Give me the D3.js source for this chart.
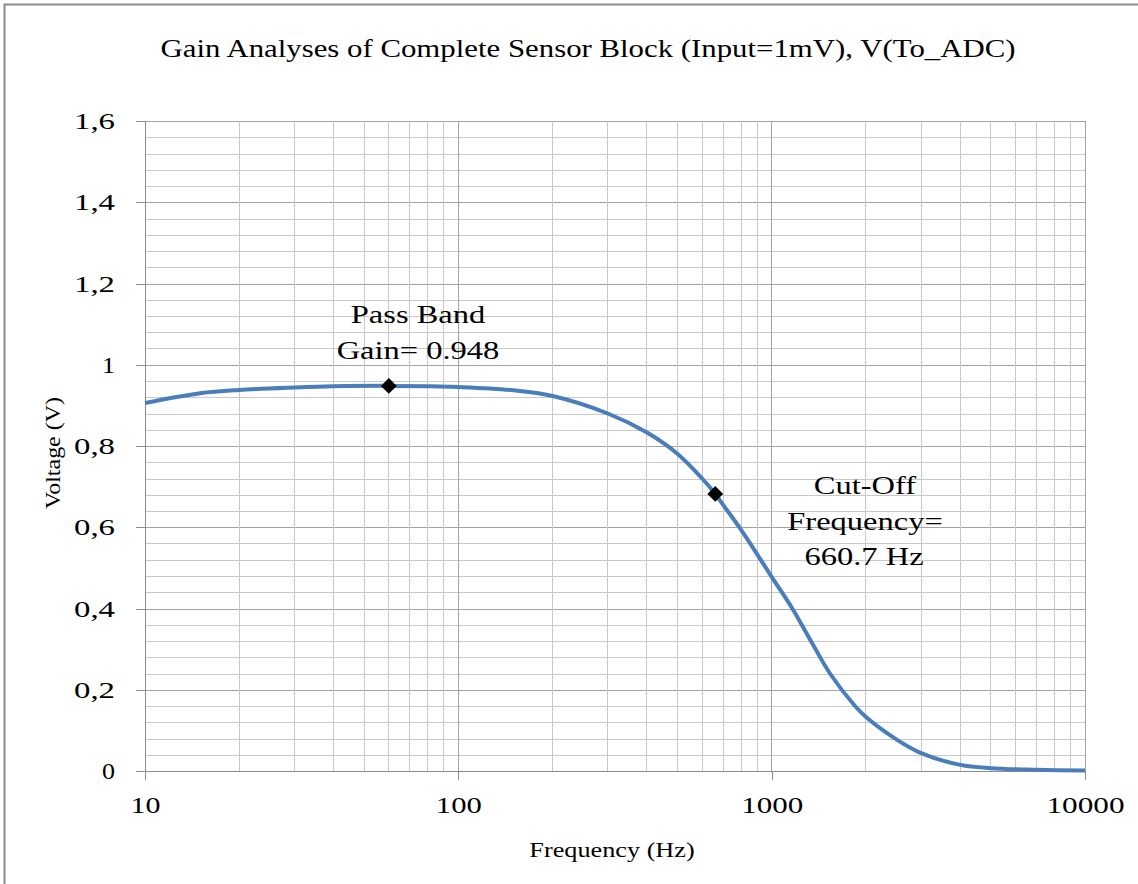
<!DOCTYPE html>
<html>
<head>
<meta charset="utf-8">
<script src="https://d3js.org/d3.v7.min.js"></script>
<style>
  body { margin: 0; background: #fff; }
  svg text { font-family: "Liberation Serif", "Times New Roman", serif; fill: #000; }
  .grid line { stroke: #c8c8c8; stroke-width: 1px; shape-rendering: crispEdges; }
  .grid .major line, .grid line.major { stroke: #a3a3a3; }
  .axis path { display: none; }
  .axis line { stroke: #8c8c8c; shape-rendering: crispEdges; }
</style>
</head>
<body>
<script>
// frequency response
var freqs = [10, 15, 20, 30, 40, 60, 80, 100, 150, 200, 300, 400, 500, 600, 660.7, 700, 800, 1000, 1160, 1330, 1535, 1845, 2000, 2500, 3000, 4000, 5000, 7000, 10000];
var volts = [0.906, 0.930, 0.938, 0.944, 0.947, 0.948, 0.947, 0.945, 0.937, 0.923, 0.880, 0.833, 0.781, 0.720, 0.682, 0.655, 0.593, 0.478, 0.402, 0.322, 0.240, 0.160, 0.133, 0.078, 0.044, 0.015, 0.007, 0.003, 0.001];
var markFreqs = [60, 660.7];
var markVolts = [0.948, 0.682];
var xTicks = [10, 100, 1000, 10000];
var yTicks = [0, 0.2, 0.4, 0.6, 0.8, 1, 1.2, 1.4, 1.6];

var W = 1138, H = 884;
var margin = {top: 121, right: 53, bottom: 113, left: 145},
    width = W - margin.left - margin.right,
    height = H - margin.top - margin.bottom;

var x = d3.scaleLog().domain([10, 10000]).range([0, width]);
var y = d3.scaleLinear().domain([0, 1.6]).range([height, 0]);

var svg = d3.select("body").append("svg")
    .attr("width", W)
    .attr("height", H);

// outer frame (top + left only visible)
svg.append("path")
    .attr("d", "M4.5," + H + "V4.5H" + W)
    .attr("fill", "none")
    .attr("stroke", "#8c8c8c")
    .attr("stroke-width", 2);

// the original is stretched sideways, so text is widened by this factor
var sx = 1.25;
function wideText(px, py, size, str) {
  svg.append("g")
      .attr("transform", "translate(" + px + "," + py + ") scale(" + sx + ",1)")
    .append("text")
      .attr("text-anchor", "middle")
      .attr("font-size", size)
      .text(str);
}

svg.append("text")
    .attr("x", 588).attr("y", 57)
    .attr("text-anchor", "middle")
    .attr("font-size", 26)
    .attr("textLength", 855).attr("lengthAdjust", "spacingAndGlyphs")
    .text("Gain Analyses of Complete Sensor Block (Input=1mV), V(To_ADC)");

var g = svg.append("g")
    .attr("transform", "translate(" + margin.left + "," + margin.top + ")");

// minor frequencies 20..90 in each decade
var minorX = [];
[10, 100, 1000].forEach(function(d) {
  for (var k = 2; k <= 9; k++) minorX.push(d * k);
});
var minorY = d3.range(0, 1.6001, 0.04);

var grid = g.append("g").attr("class", "grid");
grid.selectAll(".hy").data(minorY).enter().append("line")
    .attr("class", function(d) { return Math.abs(d / 0.2 - Math.round(d / 0.2)) < 1e-6 ? "major" : null; })
    .attr("x1", 0).attr("x2", width)
    .attr("y1", function(d) { return Math.round(y(d)) + 0.5; })
    .attr("y2", function(d) { return Math.round(y(d)) + 0.5; });
grid.selectAll(".vx").data(minorX).enter().append("line")
    .attr("x1", function(d) { return x(d); }).attr("x2", function(d) { return x(d); })
    .attr("y1", 0).attr("y2", height);
grid.append("g").attr("class", "major").selectAll("line").data(xTicks).enter().append("line")
    .attr("x1", function(d) { return x(d); }).attr("x2", function(d) { return x(d); })
    .attr("y1", 0).attr("y2", height);

var yAxis = g.append("g")
    .attr("class", "axis")
    .call(d3.axisLeft(y).tickValues(yTicks).tickSize(9).tickPadding(21)
      .tickFormat(function(d) { return d3.format("~g")(d).replace(".", ","); }));
yAxis.attr("font-family", null).attr("font-size", null);
yAxis.selectAll("text")
    .attr("font-size", 24)
    .attr("textLength", function(d) { return d === Math.round(d) ? 13 : 41; })
    .attr("lengthAdjust", "spacingAndGlyphs");

var xAxis = g.append("g")
    .attr("class", "axis")
    .attr("transform", "translate(0," + height + ")")
    .call(d3.axisBottom(x).tickValues(xTicks).tickSize(9).tickPadding(16).tickFormat(d3.format("d")));
xAxis.attr("font-family", null).attr("font-size", null);
xAxis.selectAll("text")
    .attr("font-size", 24)
    .attr("textLength", function(d) { return String(d).length * 16 - 2; })
    .attr("lengthAdjust", "spacingAndGlyphs");

// axis frame lines
g.append("line").attr("x1", 0.5).attr("x2", 0.5).attr("y1", 0).attr("y2", height)
    .attr("stroke", "#8c8c8c");
g.append("line").attr("x1", 0).attr("x2", width).attr("y1", height + 0.5).attr("y2", height + 0.5)
    .attr("stroke", "#8c8c8c");

var pts = freqs.map(function(f, i) { return [f, volts[i]]; });
g.append("path")
    .datum(pts)
    .attr("fill", "none")
    .attr("stroke", "#4a7ebb")
    .attr("stroke-width", 4)
    .attr("d", d3.line()
      .x(function(d) { return x(d[0]); })
      .y(function(d) { return y(d[1]); })
      .curve(d3.curveCatmullRom.alpha(0.5)));

g.selectAll(".mark").data(markFreqs).enter().append("path")
    .attr("transform", function(d, i) { return "translate(" + x(d) + "," + y(markVolts[i]) + ")"; })
    .attr("d", d3.symbol(d3.symbolDiamond2, 160))
    .attr("fill", "#000");

wideText(418, 323, 26, "Pass Band");
wideText(418, 359, 26, "Gain= 0.948");
wideText(865, 494, 26, "Cut-Off");
wideText(865, 530, 26, "Frequency=");
wideText(864, 565, 26, "660.7 Hz");

wideText(612, 857, 21, "Frequency (Hz)");

svg.append("text")
    .attr("transform", "translate(60,453) rotate(-90)")
    .attr("text-anchor", "middle")
    .attr("font-size", 21)
    .attr("textLength", 112).attr("lengthAdjust", "spacingAndGlyphs")
    .text("Voltage (V)");
</script>
</body>
</html>
